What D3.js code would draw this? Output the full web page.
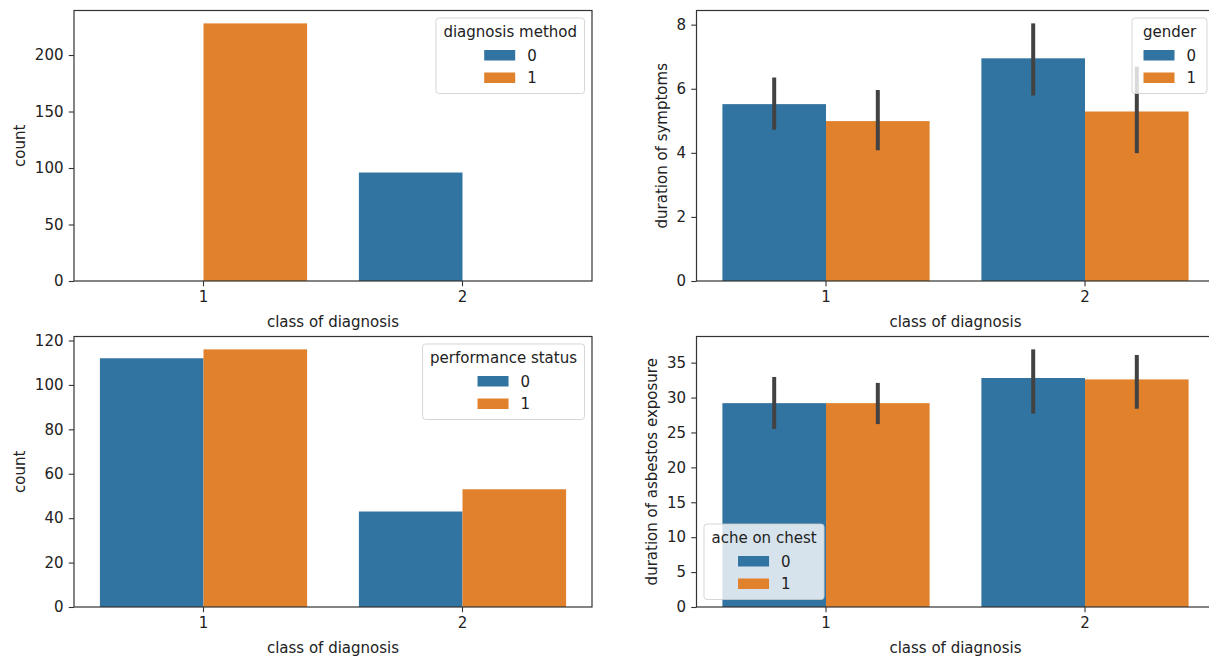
<!DOCTYPE html>
<html>
<head>
<meta charset="utf-8">
<script src="https://cdn.jsdelivr.net/npm/d3@7"></script>
<style>
  body { margin: 0; background: #fff; }
  text { font-family: "DejaVu Sans", sans-serif; fill: #222; }
</style>
</head>
<body>
<script>
/* four seaborn-style bar panels */
var categories = ["1", "2"];
var hueLevels = ["0", "1"];
var colors = ["#3274a1", "#e1812c"];

// top left: counts by diagnosis method
var methodCount0 = [0, 96];
var methodCount1 = [228, 0];
// bottom left: counts by performance status
var perfCount0 = [112, 43];
var perfCount1 = [116, 53];
// top right: mean duration of symptoms by gender, with ci
var symMean0 = [5.52, 6.95];
var symMean1 = [4.99, 5.29];
var symLo0 = [4.72, 5.79];
var symHi0 = [6.35, 8.04];
var symLo1 = [4.08, 3.99];
var symHi1 = [5.96, 6.69];
// bottom right: mean asbestos exposure by ache on chest, with ci
var asbMean0 = [29.2, 32.8];
var asbMean1 = [29.2, 32.6];
var asbLo0 = [25.5, 27.7];
var asbHi0 = [32.95, 36.9];
var asbLo1 = [26.2, 28.4];
var asbHi1 = [32.1, 36.1];

var ticksMethod = [0, 50, 100, 150, 200];
var ticksSym = [0, 2, 4, 6, 8];
var ticksPerf = [0, 20, 40, 60, 80, 100, 120];
var ticksAsb = [0, 5, 10, 15, 20, 25, 30, 35];

var fs = 15;
var svg = d3.select("body").append("svg")
    .attr("width", 1209)
    .attr("height", 656);

var W = 518, H = 270.5;

function panel(cfg) {
    var g = svg.append("g").attr("transform", "translate(" + cfg.left + "," + cfg.top + ")");

    var top = d3.max(cfg.hi || cfg.v1.concat(cfg.v0));
    if (cfg.hi) top = d3.max(cfg.hi.map(function(a){ return d3.max(a); }));
    var y = d3.scaleLinear().domain([0, top * 1.05]).range([H, 0]);
    var x = d3.scaleBand().domain(categories).range([0, W]);
    var xh = d3.scaleBand().domain(hueLevels).range([x.bandwidth() * 0.1, x.bandwidth() * 0.9]);

    var rows = [];
    categories.forEach(function(c, i) {
        rows.push({ c: c, h: "0", v: cfg.v0[i], lo: cfg.lo ? cfg.lo[0][i] : null, hi: cfg.hi ? cfg.hi[0][i] : null });
        rows.push({ c: c, h: "1", v: cfg.v1[i], lo: cfg.lo ? cfg.lo[1][i] : null, hi: cfg.hi ? cfg.hi[1][i] : null });
    });

    g.selectAll("rect.bar")
        .data(rows.filter(function(d){ return d.v > 0; }))
        .enter().append("rect")
        .attr("class", "bar")
        .attr("x", function(d){ return x(d.c) + xh(d.h); })
        .attr("width", xh.bandwidth())
        .attr("y", function(d){ return y(d.v); })
        .attr("height", function(d){ return H - y(d.v); })
        .attr("fill", function(d){ return colors[hueLevels.indexOf(d.h)]; });

    if (cfg.lo) {
        g.selectAll("line.err")
            .data(rows)
            .enter().append("line")
            .attr("class", "err")
            .attr("x1", function(d){ return x(d.c) + xh(d.h) + xh.bandwidth() / 2; })
            .attr("x2", function(d){ return x(d.c) + xh(d.h) + xh.bandwidth() / 2; })
            .attr("y1", function(d){ return y(d.lo); })
            .attr("y2", function(d){ return y(d.hi); })
            .attr("stroke", "#424242")
            .attr("stroke-width", 4);
    }

    var xa = g.append("g").attr("transform", "translate(0," + H + ")")
        .call(d3.axisBottom(x).tickSize(5.25).tickPadding(5.25));
    var ya = g.append("g")
        .call(d3.axisLeft(y).tickValues(cfg.ticks).tickFormat(d3.format("d")).tickSize(5.25).tickPadding(5.25));
    [xa, ya].forEach(function(a) {
        a.select(".domain").remove();
        a.selectAll("line").attr("stroke", "#333").attr("stroke-width", 1.1);
        a.selectAll("text").style("font-size", fs + "px").style("font-family", "DejaVu Sans").attr("fill", "#222");
    });

    g.append("rect")
        .attr("width", W).attr("height", H)
        .attr("fill", "none").attr("stroke", "#333").attr("stroke-width", 1.2);

    g.append("text")
        .attr("x", W / 2).attr("y", H + 46)
        .attr("text-anchor", "middle")
        .style("font-size", fs + "px")
        .text("class of diagnosis");

    var bb = ya.node().getBBox();
    g.append("text")
        .attr("transform", "translate(" + (bb.x - 9.6) + "," + (H / 2) + ") rotate(-90)")
        .attr("text-anchor", "middle")
        .style("font-size", fs + "px")
        .text(cfg.ylabel);

    // legend
    var lg = g.append("g");
    var frame = lg.append("rect");
    var title = lg.append("text").attr("text-anchor", "middle").style("font-size", fs + "px").text(cfg.legend);
    var tw = title.node().getComputedTextLength();
    var lw = Math.max(tw, 60) + 15, lh = 75.5;
    var lx = cfg.lower ? 7.5 : W - 7.5 - lw;
    var ly = cfg.lower ? H - 7.5 - lh : 7.5;
    lg.attr("transform", "translate(" + lx + "," + ly + ")");
    frame.attr("width", lw).attr("height", lh).attr("rx", 3)
        .attr("fill", "#fff").attr("fill-opacity", 0.8)
        .attr("stroke", "#ccc").attr("stroke-opacity", 0.8);
    title.attr("x", lw / 2).attr("y", 19);
    var gx = lw / 2 - 26;
    hueLevels.forEach(function(h, i) {
        lg.append("rect")
            .attr("x", gx).attr("y", 32 + i * 22.5)
            .attr("width", 31).attr("height", 10.5)
            .attr("fill", colors[i]);
        lg.append("text")
            .attr("x", gx + 43).attr("y", 32 + i * 22.5 + 10.5)
            .style("font-size", fs + "px")
            .text(h);
    });
}

panel({ left: 74, top: 10.5, v0: methodCount0, v1: methodCount1, ticks: ticksMethod,
        ylabel: "count", legend: "diagnosis method" });
panel({ left: 696.5, top: 10.5, v0: symMean0, v1: symMean1, lo: [symLo0, symLo1], hi: [symHi0, symHi1],
        ticks: ticksSym, ylabel: "duration of symptoms", legend: "gender" });
panel({ left: 74, top: 336.5, v0: perfCount0, v1: perfCount1, ticks: ticksPerf,
        ylabel: "count", legend: "performance status" });
panel({ left: 696.5, top: 336.5, v0: asbMean0, v1: asbMean1, lo: [asbLo0, asbLo1], hi: [asbHi0, asbHi1],
        ticks: ticksAsb, ylabel: "duration of asbestos exposure", legend: "ache on chest", lower: true });
</script>
</body>
</html>
